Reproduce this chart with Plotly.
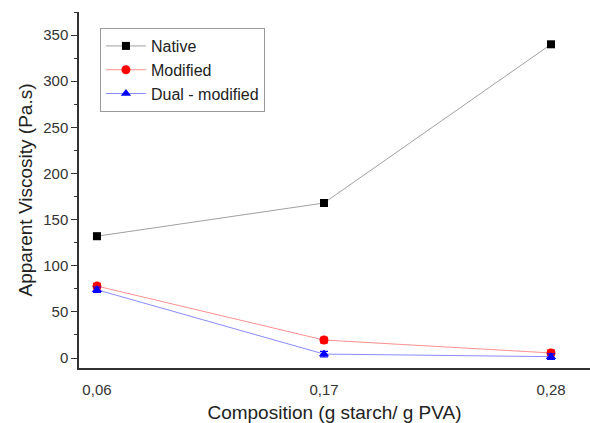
import plotly.graph_objects as go

compositions = [0.06, 0.17, 0.28]
tick_labels = ["0,06", "0,17", "0,28"]
native = [132, 168, 340]
native_err = [3, 3, 3]
modified = [78, 19.5, 5.5]
modified_err = [3, 3, 3]
dual = [74, 4.3, 1.5]
dual_err = [3, 3, 3]

fig = go.Figure()

def add(name, y, err, line_color, marker_color, symbol, size):
    fig.add_trace(go.Scatter(
        x=compositions, y=y, name=name, mode="lines+markers",
        line=dict(color=line_color, width=1),
        marker=dict(color=marker_color, symbol=symbol, size=size),
        error_y=dict(type="data", array=err, color=marker_color, thickness=1.2, width=4),
    ))

add("Native", native, native_err, "#a0a0a0", "black", "square", 8)
add("Modified", modified, modified_err, "#ff9090", "red", "circle", 9)
add("Dual - modified", dual, dual_err, "#8a8aff", "blue", "triangle-up", 9)

fig.update_layout(
    width=590, height=423,
    margin=dict(l=79, r=0, t=12, b=55),
    paper_bgcolor="white", plot_bgcolor="white",
    font=dict(family="Liberation Sans, Arial, sans-serif", color="#333"),
    showlegend=True,
    legend=dict(
        x=0.041, y=0.955, xanchor="left", yanchor="top",
        bordercolor="#999", borderwidth=1, bgcolor="white",
        font=dict(size=16, color="#222"),
        tracegroupgap=0, itemwidth=40,
    ),
)

fig.update_xaxes(
    range=[0.0513, 0.2989],
    tickmode="array", tickvals=compositions, ticktext=tick_labels,
    ticks="", showgrid=False, zeroline=False,
    showline=True, linecolor="#333", linewidth=1.5,
    tickfont=dict(size=15, color="#333"),
    ticklabelstandoff=7,
    title=dict(text="Composition (g starch/ g PVA)", font=dict(size=19, color="#222"), standoff=12),
)

fig.update_yaxes(
    range=[-10.8, 375],
    tickmode="linear", tick0=0, dtick=50,
    ticks="outside", ticklen=6, tickwidth=1.2, tickcolor="#333",
    minor=dict(ticks="outside", ticklen=3, dtick=25, tick0=0, tickcolor="#333", tickwidth=1),
    showgrid=False, zeroline=False,
    showline=True, linecolor="#333", linewidth=1.5,
    tickfont=dict(size=15, color="#333"),
    title=dict(text="Apparent Viscosity (Pa.s)", font=dict(size=19, color="#222"), standoff=6),
)

fig.write_html("out.html")
